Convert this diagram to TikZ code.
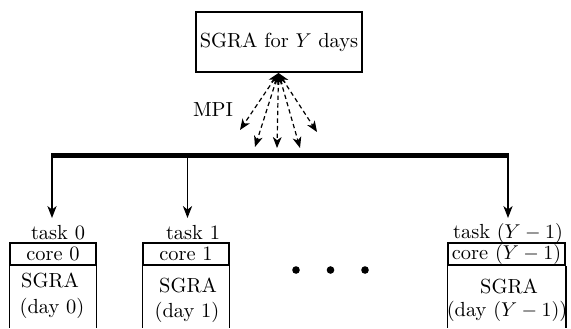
\documentclass[tikz,border=0pt]{standalone}
\usetikzlibrary{arrows.meta}
\begin{document}
\begin{tikzpicture}[x=0.5pt,y=-0.5pt,
  font=\fontsize{10.2}{12}\selectfont,
  thinline/.style={line width=0.6pt},
  arr/.style={thinline,arrows={-Stealth[length=6pt,width=4.6pt,inset=1.8pt]}},
  darr/.style={thinline,dash pattern=on 2.2pt off 1.6pt,arrows={Stealth[length=5.5pt,width=4.4pt,inset=1.6pt]-Stealth[length=5.5pt,width=4.4pt,inset=1.6pt]}},
  corebox/.style={draw,thinline,inner sep=0pt,minimum height=11pt},
  lbl/.style={inner sep=0pt}]
\useasboundingbox (0,0) rectangle (571,328);
% top box
\node[draw,thinline,minimum width=83pt,minimum height=30pt,inner sep=0pt] (top) at (279,42) {SGRA for $Y$ days};
\coordinate (src) at (278.5,73);
\coordinate (d1) at (240,130);
\coordinate (d2) at (255,147);
\coordinate (d3) at (277,148);
\coordinate (d4) at (300,148);
\coordinate (d5) at (317,132);
\draw[darr] (src) -- (d1);
\draw[darr] (src) -- (d2);
\draw[darr] (src) -- (d3);
\draw[darr] (src) -- (d4);
\draw[darr] (src) -- (d5);
\node[lbl] (mpi) at (213,110) {MPI};
% bus
\coordinate (bl) at (51,155.5);
\coordinate (br) at (508.5,155.5);
\draw[line width=2.6pt] (bl) -- (br);
\coordinate (b0) at (52,157);
\coordinate (b1) at (187.5,157);
\coordinate (b2) at (508,157);
\coordinate (e0) at (52,218);
\coordinate (e1) at (187.5,218);
\coordinate (e2) at (508,218);
\draw[arr] (b0) -- (e0);
\draw[arr] (b1) -- (e1);
\draw[arr] (b2) -- (e2);
% task labels
\node[lbl] (t0) at (58,233) {task 0};
\node[lbl] (t1) at (193,233) {task 1};
\node[lbl] (t2) at (508,233) {task $(Y-1)$};
% core boxes
\node[corebox,minimum width=43pt] (c0) at (53,254) {core 0};
\node[corebox,minimum width=43pt] (c1) at (186,254) {core 1};
\node[corebox,minimum width=58.5pt,line width=0.9pt] (c2) at (506.5,254) {core $(Y-1)$};
\draw[thinline] (c0.south west) -- (c0.south west |- 0,328);
\draw[thinline] (c0.south east) -- (c0.south east |- 0,328);
\draw[thinline] (c1.south west) -- (c1.south west |- 0,328);
\draw[thinline] (c1.south east) -- (c1.south east |- 0,328);
\draw[thinline] (c2.south west) -- (c2.south west |- 0,328);
\draw[thinline] (c2.south east) -- (c2.south east |- 0,328);
% contents
\node[lbl] (s0) at (50,280) {SGRA};
\node[lbl] (y0) at (52,308) {(day 0)};
\node[lbl] (s1) at (188,285) {SGRA};
\node[lbl] (y1) at (187,312) {(day 1)};
\node[lbl] (s2) at (509,286) {SGRA};
\node[lbl] (y2) at (507,311) {(day $(Y-1)$)};
% dots
\fill (296,270) circle (3.8);
\fill (330.5,270) circle (3.8);
\fill (365,270) circle (3.8);
\end{tikzpicture}
\end{document}
